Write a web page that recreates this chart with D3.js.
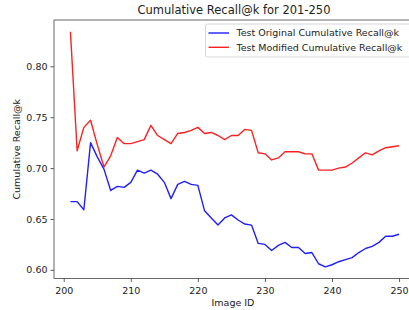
<!DOCTYPE html>
<html><head><meta charset="utf-8">
<script src="https://cdn.jsdelivr.net/npm/d3@7"></script>
<style>body{margin:0;background:#fff;}svg{display:block;font-family:"DejaVu Sans",sans-serif;}</style>
</head><body>
<svg id="c" width="409" height="310"></svg>
<script>
const imageIds = d3.range(201, 251);
const originalRecall = [0.667,0.667,0.659,0.725,0.711,0.699,0.678,0.682,0.681,0.686,
  0.698,0.695,0.698,0.694,0.686,0.670,0.684,0.687,0.684,0.683,
  0.658,0.651,0.644,0.651,0.654,0.649,0.645,0.644,0.626,0.625,
  0.619,0.624,0.627,0.622,0.622,0.616,0.617,0.606,0.603,0.605,
  0.608,0.610,0.612,0.617,0.621,0.623,0.627,0.633,0.633,0.635];
const modifiedRecall = [0.834,0.717,0.740,0.747,0.723,0.701,0.712,0.730,0.724,0.724,
  0.726,0.728,0.742,0.732,0.728,0.724,0.734,0.735,0.737,0.740,
  0.734,0.735,0.732,0.728,0.732,0.732,0.738,0.737,0.715,0.714,
  0.708,0.710,0.716,0.716,0.716,0.714,0.714,0.698,0.698,0.698,
  0.700,0.701,0.705,0.710,0.715,0.713,0.717,0.720,0.721,0.722];
const xTicks = [200,210,220,230,240,250];
const yTicks = [0.60,0.65,0.70,0.75,0.80];
const seriesNames = ["Test Original Cumulative Recall@k","Test Modified Cumulative Recall@k"];
const seriesColors = ["#1f1fff","#ff2020"];
const titleText = "Cumulative Recall@k for 201-250";

const svg = d3.select("#c");
const L = 54, R = 415.5, T = 20, B = 278.5;
const x = d3.scaleLinear().domain([198.55, 252.45]).range([L, R]);
const y = d3.scaleLinear().domain([0.5915, 0.8455]).range([B, T]);

svg.append("defs").append("clipPath").attr("id","clip").append("rect")
  .attr("x",L).attr("y",T).attr("width",R-L).attr("height",B-T);

const xa = svg.append("g").attr("transform",`translate(0,${B})`)
  .call(d3.axisBottom(x).tickValues(xTicks).tickFormat(d3.format("d")).tickSize(3.5).tickPadding(3));
const ya = svg.append("g").attr("transform",`translate(${L},0)`)
  .call(d3.axisLeft(y).tickValues(yTicks).tickFormat(d3.format(".2f")).tickSize(3.5).tickPadding(3));
[xa,ya].forEach(a=>{
  a.selectAll("path").remove();
  a.selectAll("line").attr("stroke","#333").attr("stroke-width",0.8);
  a.selectAll("text").attr("fill","#222").style("font-size","9.5px").style("font-family","DejaVu Sans");
});
xa.selectAll("text").attr("dy","0.9em");

const series = [originalRecall, modifiedRecall];
const line = d3.line().x((d,i)=>x(imageIds[i])).y(d=>y(d));
const g = svg.append("g").attr("clip-path","url(#clip)");
series.forEach((s,k)=>{
  g.append("path").datum(s).attr("d",line).attr("fill","none")
    .attr("stroke",seriesColors[k]).attr("stroke-width",1.4).attr("stroke-linejoin","round");
});

// frame
svg.append("rect").attr("x",L).attr("y",T).attr("width",R-L).attr("height",B-T)
  .attr("fill","none").attr("stroke","#444").attr("stroke-width",0.8);

// legend
const lg = svg.append("g");
lg.append("rect").attr("x",205.5).attr("y",24).attr("width",220).attr("height",33).attr("rx",2)
  .attr("fill","#fff").attr("fill-opacity",0.8).attr("stroke","#ccc").attr("stroke-width",0.8);
seriesNames.forEach((n,k)=>{
  const yy = 33 + k*14.3;
  lg.append("line").attr("x1",208.5).attr("x2",229).attr("y1",yy).attr("y2",yy)
    .attr("stroke",seriesColors[k]).attr("stroke-width",1.4);
  lg.append("text").attr("x",236.5).attr("y",yy).attr("dy","0.35em")
    .style("font-size","9.5px").attr("fill","#222").text(n);
});

svg.append("text").attr("x",234).attr("y",10).attr("dy","0.35em").attr("text-anchor","middle")
  .style("font-size","11.5px").attr("fill","#222").text(titleText);
svg.append("text").attr("x",233).attr("y",302.5).attr("dy","0.35em").attr("text-anchor","middle")
  .style("font-size","9.5px").attr("fill","#222").text("Image ID");
svg.append("text").attr("transform",`translate(16.5,${(T+B)/2}) rotate(-90)`).attr("dy","0.35em")
  .attr("text-anchor","middle").style("font-size","9.5px").attr("fill","#222").text("Cumulative Recall@k");
</script>
</body></html>
